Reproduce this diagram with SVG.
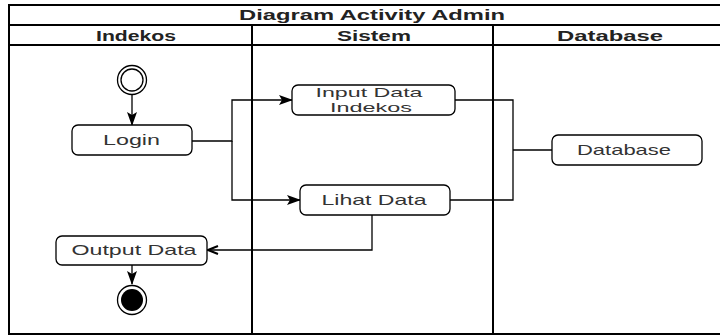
<svg xmlns="http://www.w3.org/2000/svg" width="720" height="336" viewBox="0 0 720 336">
  <style>
    .frame { fill: none; stroke: #000; stroke-width: 2; }
    .lane { stroke: #000; stroke-width: 2; }
    .title { font-family: "Liberation Sans", Arial, sans-serif; font-size: 15px; font-weight: bold; fill: #222; text-anchor: middle; }
    .act rect { fill: #fff; stroke: #000; stroke-width: 1.3; }
    .act text { font-family: "Liberation Sans", Arial, sans-serif; font-size: 15px; fill: #333; text-anchor: middle; }
    .act text.two { font-size: 13.5px; }
    .edge { fill: none; stroke: #000; stroke-width: 1.3; }
  </style>
  <defs>
    <marker id="arrow" viewBox="0 0 14 10" refX="13" refY="5" markerWidth="14" markerHeight="10" markerUnits="userSpaceOnUse" orient="auto">
      <path d="M0,0 L14,5 L0,10 L3,5 z" fill="#000"/>
    </marker>
    <marker id="open" viewBox="0 0 12 10" refX="11" refY="5" markerWidth="12" markerHeight="10" markerUnits="userSpaceOnUse" orient="auto">
      <path d="M1,1 L11,5 L1,9" fill="none" stroke="#000" stroke-width="2"/>
    </marker>
  </defs>

  <rect width="720" height="336" fill="#fff"/>

  <!-- swimlane pool -->
  <g id="pool">
    <rect class="frame" x="9" y="5" width="730" height="329"/>
    <line class="lane" x1="9" y1="25" x2="720" y2="25"/>
    <line class="lane" x1="9" y1="45" x2="720" y2="45"/>
    <line class="lane" x1="252" y1="25" x2="252" y2="334"/>
    <line class="lane" x1="493" y1="25" x2="493" y2="334"/>
    <text class="title" x="372" y="20" textLength="266" lengthAdjust="spacingAndGlyphs">Diagram Activity Admin</text>
    <text class="title" x="136" y="41" textLength="80" lengthAdjust="spacingAndGlyphs">Indekos</text>
    <text class="title" x="374" y="41" textLength="74" lengthAdjust="spacingAndGlyphs">Sistem</text>
    <text class="title" x="610" y="41" textLength="106" lengthAdjust="spacingAndGlyphs">Database</text>
  </g>

  <!-- connectors -->
  <g id="connectors">
    <path class="edge" d="M132,95 V125" marker-end="url(#arrow)"/>
    <path class="edge" d="M192,141 H232 V100 H292" marker-end="url(#arrow)"/>
    <path class="edge" d="M232,141 V200 H300" marker-end="url(#arrow)"/>
    <path class="edge" d="M455,100 H513 V200 H450"/>
    <path class="edge" d="M513,150 H552"/>
    <path class="edge" d="M372,215 V250 H208" marker-end="url(#open)"/>
    <path class="edge" d="M132,265 V284" marker-end="url(#arrow)"/>
  </g>

  <g id="start">
    <circle cx="132" cy="80" r="14.5" fill="#fff" stroke="#000" stroke-width="1.3"/>
    <circle cx="132" cy="80" r="11" fill="none" stroke="#000" stroke-width="1.3"/>
  </g>

  <g id="login" class="act">
    <rect x="72" y="125" width="120" height="30" rx="6"/>
    <text x="131.5" y="145" textLength="57" lengthAdjust="spacingAndGlyphs">Login</text>
  </g>

  <g id="input-data" class="act">
    <rect x="292" y="85" width="163" height="30" rx="6"/>
    <text class="two" x="369" y="97" textLength="107" lengthAdjust="spacingAndGlyphs">Input Data</text>
    <text class="two" x="371" y="112" textLength="82" lengthAdjust="spacingAndGlyphs">Indekos</text>
  </g>

  <g id="lihat-data" class="act">
    <rect x="300" y="185" width="150" height="30" rx="6"/>
    <text x="374" y="205" textLength="105" lengthAdjust="spacingAndGlyphs">Lihat Data</text>
  </g>

  <g id="database" class="act">
    <rect x="552" y="135" width="150" height="30" rx="6"/>
    <text x="624" y="155" textLength="94" lengthAdjust="spacingAndGlyphs">Database</text>
  </g>

  <g id="output-data" class="act">
    <rect x="56" y="236" width="151" height="29" rx="6"/>
    <text x="134" y="255" textLength="125" lengthAdjust="spacingAndGlyphs">Output Data</text>
  </g>

  <g id="end">
    <circle cx="132" cy="300" r="14.5" fill="#fff" stroke="#000" stroke-width="1.3"/>
    <circle cx="132" cy="300" r="11" fill="#000"/>
  </g>
</svg>
